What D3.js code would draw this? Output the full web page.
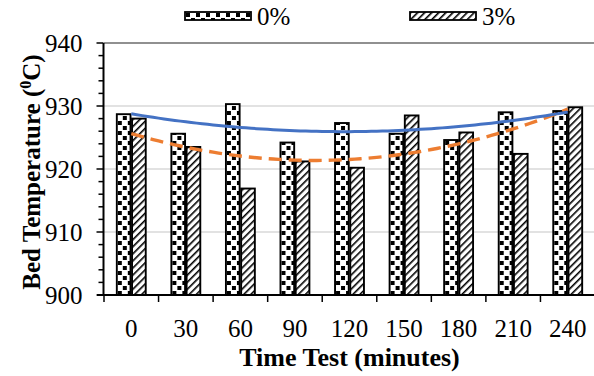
<!DOCTYPE html>
<html>
<head>
<meta charset="utf-8">
<script src="https://cdn.jsdelivr.net/npm/d3@7/dist/d3.min.js"></script>
<style>
  body { margin: 0; background: #fff; }
</style>
</head>
<body>
<div id="chart"></div>
<script>
const categories = ['0', '30', '60', '90', '120', '150', '180', '210', '240'];
const seriesNames = ['0%', '3%'];
const values0 = [928.7, 925.6, 930.3, 924.2, 927.3, 925.6, 924.6, 929.0, 929.2];
const values3 = [928.0, 923.5, 916.9, 921.2, 920.2, 928.5, 925.8, 922.4, 929.8];
const yTicks = [900, 910, 920, 930, 940];

const width = 594, height = 376;
const margin = { top: 43, right: -1, bottom: 80, left: 104 };
const serif = 'Liberation Serif';

const svg = d3.select('#chart').append('svg')
  .attr('width', width)
  .attr('height', height)
  .style('font-family', serif);

const defs = svg.append('defs');

// dotted pattern for 0%
const dots = defs.append('pattern')
  .attr('id', 'dots')
  .attr('patternUnits', 'userSpaceOnUse')
  .attr('width', 10).attr('height', 10);
dots.append('rect').attr('width', 10).attr('height', 10).attr('fill', '#fff');
dots.append('rect').attr('x', 1).attr('y', 1).attr('width', 4).attr('height', 4).attr('fill', '#000');
dots.append('rect').attr('x', 6).attr('y', 6).attr('width', 4).attr('height', 4).attr('fill', '#000');

// diagonal stripes for 3%
const stripes = defs.append('pattern')
  .attr('id', 'stripes')
  .attr('patternUnits', 'userSpaceOnUse')
  .attr('width', 5).attr('height', 5)
  .attr('patternTransform', 'rotate(45)');
stripes.append('rect').attr('width', 5).attr('height', 5).attr('fill', '#fff');
stripes.append('rect')
  .attr('x', 0).attr('y', 0).attr('width', 1.6).attr('height', 5)
  .attr('fill', '#000');

const fills = { '0%': 'url(#dots)', '3%': 'url(#stripes)' };

const x0 = d3.scaleBand()
  .domain(categories)
  .range([margin.left, width - margin.right])
  .paddingInner(0.47)
  .paddingOuter(0.235);

const x1 = d3.scaleBand()
  .domain(seriesNames)
  .range([0, x0.bandwidth()])
  .paddingInner(0.1);

const y = d3.scaleLinear()
  .domain([900, 940])
  .range([height - margin.bottom - 1, margin.top]);

const step = x0.step();
const plotLeft = margin.left, plotRight = width - margin.right;

// gridlines
svg.append('g')
  .selectAll('line')
  .data(yTicks.filter(d => d > 900))
  .join('line')
  .attr('x1', plotLeft).attr('x2', plotRight)
  .attr('y1', d => y(d)).attr('y2', d => y(d))
  .attr('stroke', d => d === 940 ? '#222' : '#d9d9d9')
  .attr('stroke-width', d => d === 940 ? 1.2 : 1.5);

// bars
const rows = categories.map((c, i) => ({ cat: c, vals: [values0[i], values3[i]] }));
svg.append('g')
  .selectAll('g')
  .data(rows)
  .join('g')
  .attr('transform', d => `translate(${x0(d.cat)},0)`)
  .selectAll('rect')
  .data(d => d.vals.map((v, j) => ({ key: seriesNames[j], v })))
  .join('rect')
  .attr('x', d => x1(d.key))
  .attr('y', d => y(d.v))
  .attr('width', x1.bandwidth())
  .attr('height', d => y(900) - y(d.v))
  .attr('fill', d => fills[d.key])
  .attr('stroke', '#000')
  .attr('stroke-width', 1.9);

// polynomial (order 2) trendline, least squares with x = 1..n
function quadFit(vals) {
  const s = [0, 0, 0, 0, 0], t = [0, 0, 0];
  vals.forEach((v, i) => {
    const xv = i + 1;
    for (let k = 0; k < 5; k++) s[k] += Math.pow(xv, k);
    for (let k = 0; k < 3; k++) t[k] += v * Math.pow(xv, k);
  });
  const A = [[s[0], s[1], s[2], t[0]], [s[1], s[2], s[3], t[1]], [s[2], s[3], s[4], t[2]]];
  for (let i = 0; i < 3; i++) {
    for (let r = i + 1; r < 3; r++) {
      const f = A[r][i] / A[i][i];
      for (let c = i; c < 4; c++) A[r][c] -= f * A[i][c];
    }
  }
  const coef = [0, 0, 0];
  for (let i = 2; i >= 0; i--) {
    let sum = A[i][3];
    for (let c = i + 1; c < 3; c++) sum -= A[i][c] * coef[c];
    coef[i] = sum / A[i][i];
  }
  return xv => coef[0] + coef[1] * xv + coef[2] * xv * xv;
}

const firstCenter = x0(categories[0]) + x0.bandwidth() / 2;
const trendX = d3.range(1, categories.length + 0.001, 0.1);
const line = d3.line()
  .x(d => firstCenter + (d[0] - 1) * step)
  .y(d => y(d[1]));

const f0 = quadFit(values0), f3 = quadFit(values3);
svg.append('path')
  .datum(trendX.map(t => [t, f3(t)]))
  .attr('fill', 'none')
  .attr('stroke', '#ED7D31')
  .attr('stroke-width', 3.4)
  .attr('stroke-dasharray', '13,7')
  .attr('d', line);
svg.append('path')
  .datum(trendX.map(t => [t, f0(t)]))
  .attr('fill', 'none')
  .attr('stroke', '#4472C4')
  .attr('stroke-width', 3)
  .attr('d', line);

// y axis with minor ticks
const yAxis = svg.append('g').attr('transform', `translate(${plotLeft - 0.5},0)`);
yAxis.append('line')
  .attr('x1', 0).attr('x2', 0)
  .attr('y1', y(940)).attr('y2', y(900) + 1)
  .attr('stroke', '#000').attr('stroke-width', 2);
yAxis.selectAll('.minor')
  .data(d3.range(900, 940.1, 2))
  .join('line')
  .attr('x1', d => yTicks.includes(d) ? -7 : -5).attr('x2', 0)
  .attr('y1', d => y(d)).attr('y2', d => y(d))
  .attr('stroke', '#000').attr('stroke-width', 1.5);
yAxis.selectAll('text')
  .data(yTicks)
  .join('text')
  .attr('x', -21)
  .attr('y', d => y(d))
  .attr('dy', '0.35em')
  .attr('text-anchor', 'end')
  .style('font-family', serif)
  .style('font-size', '25px')
  .text(d => d);

// x axis
const xAxisY = y(900);
svg.append('line')
  .attr('x1', plotLeft - 7).attr('x2', plotRight)
  .attr('y1', xAxisY).attr('y2', xAxisY)
  .attr('stroke', '#000').attr('stroke-width', 2);
svg.append('g')
  .selectAll('line')
  .data(d3.range(categories.length + 1))
  .join('line')
  .attr('x1', i => plotLeft + i * step).attr('x2', i => plotLeft + i * step)
  .attr('y1', xAxisY).attr('y2', xAxisY + 7)
  .attr('stroke', '#000').attr('stroke-width', 1.5);
svg.append('g')
  .selectAll('text')
  .data(categories)
  .join('text')
  .attr('x', d => x0(d) + x0.bandwidth() / 2)
  .attr('y', 337)
  .attr('text-anchor', 'middle')
  .style('font-family', serif)
  .style('font-size', '25px')
  .text(d => d);

// axis titles
svg.append('text')
  .attr('x', (plotLeft + plotRight) / 2)
  .attr('y', 366)
  .attr('text-anchor', 'middle')
  .style('font-family', serif)
  .style('font-size', '26px')
  .style('font-weight', 'bold')
  .text('Time Test (minutes)');

const yTitle = svg.append('text')
  .attr('transform', 'translate(40,172) rotate(-90)')
  .attr('text-anchor', 'middle')
  .style('font-family', serif)
  .style('font-size', '25px')
  .style('font-weight', 'bold');
yTitle.append('tspan').text('Bed Temperature (');
yTitle.append('tspan').style('font-size', '16px').attr('dy', -9).text('0');
yTitle.append('tspan').attr('dy', 9).text('C)');

// legend
const legendItems = [
  { key: '0%', x: 185 },
  { key: '3%', x: 410 }
];
const lg = svg.append('g')
  .selectAll('g')
  .data(legendItems)
  .join('g')
  .attr('transform', d => `translate(${d.x},12)`);
lg.append('rect')
  .attr('width', 66).attr('height', 8)
  .attr('fill', d => fills[d.key])
  .attr('stroke', '#000').attr('stroke-width', 1.8);
lg.append('text')
  .attr('x', 72).attr('y', 4)
  .attr('dy', '0.35em')
  .style('font-family', serif)
  .style('font-size', '25px')
  .text(d => d.key);
</script>
</body>
</html>
